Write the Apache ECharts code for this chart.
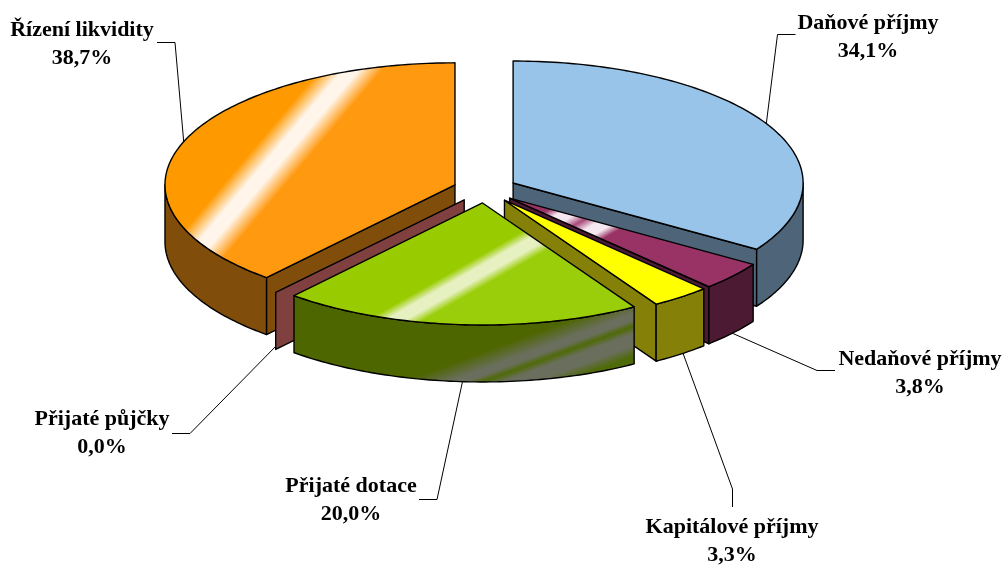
<!DOCTYPE html>
<html>
<head>
<meta charset="utf-8">
<style>
  html, body { margin: 0; padding: 0; background: #fff; }
  #main { width: 1003px; height: 565px; }
</style>
<script src="https://cdn.jsdelivr.net/npm/echarts@6/dist/echarts.min.js"></script>
</head>
<body>
<div id="main"></div>
<script>
const categories = ['Daňové příjmy', 'Nedaňové příjmy', 'Kapitálové příjmy', 'Přijaté dotace', 'Přijaté půjčky', 'Řízení likvidity'];
const shares = [34.1, 3.8, 3.3, 20.0, 0.0, 38.7];
const topColors = ['#99c4ea', '#993366', '#ffff00', '#99cc00', '#993d3d', '#ff9910'];
const wallColors = ['#4d6479', '#4d1a33', '#858008', '#4d6600', '#804040', '#804d0a'];

// back to front
const paintOrder = [0, 5, 4, 1, 2, 3];

// pie layout
const cx = 485, cy = 189.5;
const rx = 290, ry = 122, depth = 57;
const explodeX = 32, explodeY = 13.5;

// label block centres and leader lines, same order as categories
const labelPos = [[868, 37], [920, 373], [732, 541], [351, 500], [102, 433], [82, 44]];
const leaders = [
  [[795.5, 34.5], [777.5, 34.5], [766, 126]],
  [[725, 330], [817, 370.5], [835, 370.5]],
  [[680, 345], [732.5, 489], [732.5, 507]],
  [[465, 370], [437, 499.5], [419, 499.5]],
  [[280, 342], [190, 433.5], [172, 433.5]],
  [[157, 42.5], [175, 42.5], [184, 145]]
];

const rad = (deg) => deg * Math.PI / 180;
const total = shares.reduce((a, b) => a + b, 0);

// cumulative share -> angle, clockwise from 12 o'clock
const toAngle = (v) => echarts.number.linearMap(v, [0, total], [0, 360]);
const arcPoint = (o, a, dy) => [o[0] + rx * Math.sin(rad(a)), o[1] - ry * Math.cos(rad(a)) + (dy || 0)];

// glossy bands: distance from the band line (px) -> colour
function bandFill(px, py, nx, ny, bands) {
  const L = 320;
  return new echarts.graphic.LinearGradient(
    px - nx * L, py - ny * L, px + nx * L, py + ny * L,
    bands.map((b) => ({ offset: (b[0] + L) / (2 * L), color: b[1] })),
    true
  );
}

const topFills = {
  1: bandFill(580, 222, 0.5, 0.87, [[-26, '#993366'], [-18, '#f5e8f0'], [-9, '#f5e8f0'], [0, '#a8487a'], [9, '#f5e8f0'], [18, '#f5e8f0'], [26, '#993366']]),
  3: bandFill(464, 281, 0.495, 0.869, [[-14, '#99cc00'], [-5, '#e6f0c0'], [5, '#e6f0c0'], [14, '#9bce0a']]),
  5: bandFill(275, 160, 0.764, 0.645, [[-24, '#ff9900'], [-6, '#fff5ea'], [6, '#fff5ea'], [24, '#ff9910']])
};
const wallFills = {
  3: bandFill(637, 325, 0.346, 0.938, [[-28, '#4d6600'], [-12, '#6a6e5c'], [-6, '#6a6e5c'], [0, '#4f6a08'], [7, '#6a6e5c'], [18, '#6a6e5c'], [28, '#4f6a08']])
};

let running = 0;
const slices = shares.map((v) => {
  const a0 = toAngle(running);
  running += v;
  const a1 = toAngle(running);
  const mid = (a0 + a1) / 2;
  const apex = [cx + explodeX * Math.sin(rad(mid)), cy - explodeY * Math.cos(rad(mid))];
  return { a0, a1, apex };
});

function poly(points, fill) {
  return {
    type: 'polygon',
    shape: { points: points },
    style: { fill: fill, stroke: '#000', lineWidth: 1.4, lineJoin: 'round' }
  };
}

// radial wall shows only when the slice body lies above the edge on screen
function wallVisible(s, edge, inner) {
  const p = arcPoint(s.apex, edge);
  const q = arcPoint(s.apex, inner);
  const ex = p[0] - s.apex[0], ey = p[1] - s.apex[1];
  const side = ex * (q[1] - s.apex[1]) - ey * (q[0] - s.apex[0]);
  return Math.abs(ex) > 0.5 && side * ex < 0;
}

function radialWall(s, edge, fill) {
  const p = arcPoint(s.apex, edge);
  return poly([s.apex, p, [p[0], p[1] + depth], [s.apex[0], s.apex[1] + depth]], fill);
}

function renderSlice(params, api) {
  const i = api.value(0);
  const s = slices[i];
  const wall = wallColors[i];
  const children = [];

  if (wallVisible(s, s.a0, s.a0 + 1)) children.push(radialWall(s, s.a0, wall));
  if (wallVisible(s, s.a1, s.a1 - 1)) children.push(radialWall(s, s.a1, wall));

  const from = Math.max(s.a0, 90), to = Math.min(s.a1, 270);
  if (to > from && shares[i] > 0) {
    const upper = [], lower = [];
    for (let a = from; a < to; a += 1) {
      upper.push(arcPoint(s.apex, a));
      lower.unshift(arcPoint(s.apex, a, depth));
    }
    upper.push(arcPoint(s.apex, to));
    lower.unshift(arcPoint(s.apex, to, depth));
    children.push(poly(upper.concat(lower), wallFills[i] || wall));
  }

  if (shares[i] > 0) {
    const rim = [s.apex];
    for (let a = s.a0; a < s.a1; a += 1) rim.push(arcPoint(s.apex, a));
    rim.push(arcPoint(s.apex, s.a1));
    children.push(poly(rim, topFills[i] || topColors[i]));
  }
  return { type: 'group', children: children };
}

function renderLabel(params, api) {
  const i = api.value(0);
  return {
    type: 'group',
    children: [
      {
        type: 'polyline',
        shape: { points: leaders[i] },
        style: { fill: 'none', stroke: '#000', lineWidth: 1 }
      },
      {
        type: 'text',
        style: {
          x: labelPos[i][0],
          y: labelPos[i][1],
          text: categories[i] + '\n' + shares[i].toFixed(1).replace('.', ',') + '%',
          fill: '#000',
          font: 'bold 22px "Liberation Serif"',
          lineHeight: 28,
          align: 'center',
          verticalAlign: 'middle'
        }
      }
    ]
  };
}

const myChart = echarts.init(document.getElementById('main'), null, { renderer: 'canvas' });
myChart.setOption({
  backgroundColor: '#fff',
  animation: false,
  series: [
    {
      type: 'custom',
      coordinateSystem: 'none',
      z: 1,
      silent: true,
      renderItem: renderLabel,
      data: categories.map((c, i) => [i])
    },
    {
      type: 'custom',
      coordinateSystem: 'none',
      z: 2,
      silent: true,
      renderItem: renderSlice,
      data: paintOrder.map((i) => [i])
    }
  ]
});
</script>
</body>
</html>
